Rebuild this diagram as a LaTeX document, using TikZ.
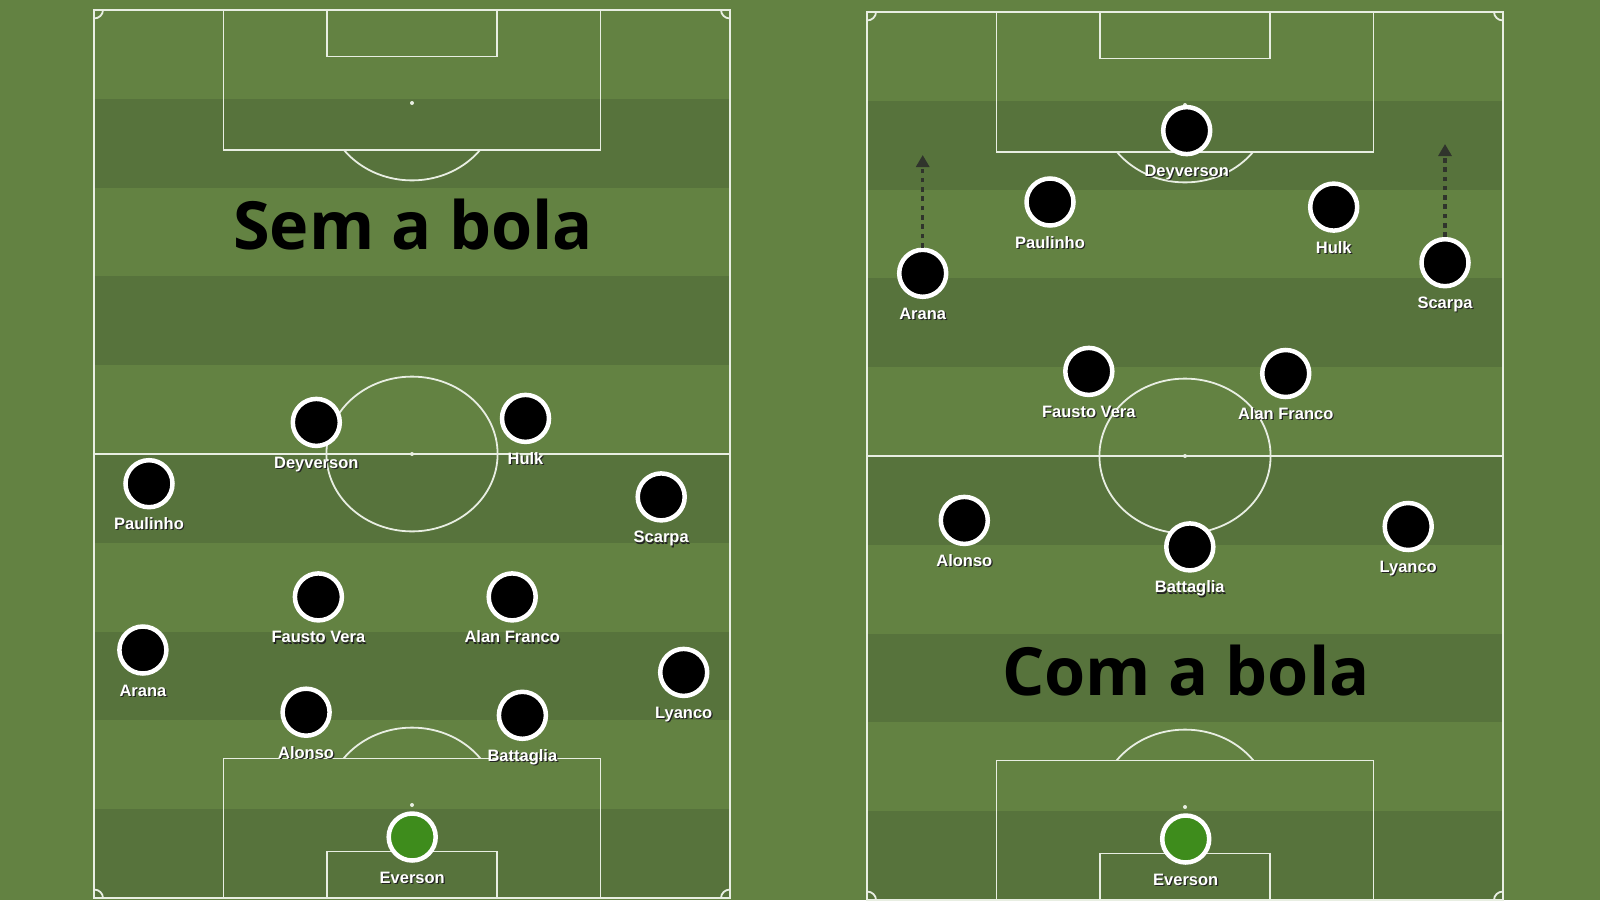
\documentclass[tikz,border=0pt]{standalone}
\usepackage{fontspec}
\setmainfont{Liberation Sans}
\newfontfamily\titlefont{Open Sans}
\usetikzlibrary{arrows.meta}
\definecolor{grasslight}{RGB}{99,130,66}
\definecolor{grassdark}{RGB}{87,115,60}
\definecolor{chalk}{RGB}{232,238,226}
\definecolor{keeper}{RGB}{62,140,28}
\definecolor{runline}{RGB}{48,52,44}
\definecolor{namesh}{RGB}{35,35,35}
% white name with a small dark drop shadow
\newcommand\nm[1]{\rlap{\kern1.2pt\raisebox{-1.2pt}{\textcolor{namesh}{#1}}}#1}
\begin{document}
\begin{tikzpicture}[x=1pt,y=-1pt,
  chalkline/.style={draw=chalk, line width=1.8pt},
  player/.style={circle, fill=black, draw=white, line width=4.5pt, minimum size=47pt, inner sep=0pt},
  goalie/.style={player, fill=keeper},
  tag/.style={anchor=base, text=white, inner sep=0pt, font=\bfseries\fontsize{16.5}{18}\selectfont},
  title/.style={anchor=base, inner sep=0pt, font=\titlefont\bfseries\fontsize{66.5}{76}\selectfont},
  run/.style={draw=runline, line width=3.3pt, dash pattern=on 4.6pt off 4.7pt, -{Triangle[width=13pt,length=12pt]}}]
\useasboundingbox (0,0) rectangle (1600,900);
\fill[grasslight] (0,0) rectangle (1600,900);
% the two pitches
\foreach \px/\py in {94/10, 867/12} {
  \begin{scope}[shift={(\px,\py)}]
    \foreach \k in {1,3,5,7,9}
      \fill[grassdark] (0,\k*88.8) rectangle (636,\k*88.8+88.8);
    \draw[chalkline] (0,0) rectangle (636,888);
    \draw[chalkline] (0,444) -- (636,444);
    \draw[chalkline] (318,444) ellipse [x radius=85.6, y radius=77.4];
    \fill[chalk] (318,444) circle [radius=2];
    \draw[chalkline] (129.5,0) rectangle (506.5,139.6);
    \draw[chalkline] (129.5,888) rectangle (506.5,748.4);
    \draw[chalkline] (233,0) rectangle (403,46.5);
    \draw[chalkline] (233,888) rectangle (403,841.5);
    \fill[chalk] (318,93) circle [radius=2];
    \fill[chalk] (318,795) circle [radius=2];
    \begin{scope}
      \clip (0,139.6) rectangle (636,300);
      \draw[chalkline] (318,93) ellipse [x radius=85.6, y radius=77.4];
    \end{scope}
    \begin{scope}
      \clip (0,600) rectangle (636,748.4);
      \draw[chalkline] (318,795) ellipse [x radius=85.6, y radius=77.4];
    \end{scope}
    \begin{scope}
      \clip (0,0) rectangle (636,888);
      \foreach \cx/\cy in {0/0, 636/0, 0/888, 636/888}
        \draw[chalkline] (\cx,\cy) ellipse [x radius=9, y radius=8.5];
    \end{scope}
  \end{scope}
}
% titles
\node [title] (semtxt) at (413,249.3) {Sem a bola};
\node [title] (comtxt) at (1186,695) {Com a bola};
% left pitch: sem a bola
\node [player] (ldey) at (316.3,422.4) {};
\node [player] (lhulk) at (525.5,418.4) {};
\node [player] (lpau) at (149,483.7) {};
\node [player] (lsca) at (661.2,496.9) {};
\node [player] (lfau) at (318.4,596.9) {};
\node [player] (lala) at (512.2,596.9) {};
\node [player] (lara) at (142.9,650) {};
\node [player] (llya) at (683.7,672.4) {};
\node [player] (lalo) at (306.1,712.2) {};
\node [player] (lbat) at (522.4,715.3) {};
\node [goalie] (leve) at (412.2,837) {};
\node [tag] (ldeyn) at ([yshift=-46pt]ldey.center) {\nm{Deyverson}};
\node [tag] (lhulkn) at ([yshift=-46pt]lhulk.center) {\nm{Hulk}};
\node [tag] (lpaun) at ([yshift=-46pt]lpau.center) {\nm{Paulinho}};
\node [tag] (lscan) at ([yshift=-46pt]lsca.center) {\nm{Scarpa}};
\node [tag] (lfaun) at ([yshift=-46pt]lfau.center) {\nm{Fausto Vera}};
\node [tag] (lalan) at ([yshift=-46pt]lala.center) {\nm{Alan Franco}};
\node [tag] (laran) at ([yshift=-46pt]lara.center) {\nm{Arana}};
\node [tag] (llyan) at ([yshift=-46pt]llya.center) {\nm{Lyanco}};
\node [tag] (lalon) at ([yshift=-46pt]lalo.center) {\nm{Alonso}};
\node [tag] (lbatn) at ([yshift=-46pt]lbat.center) {\nm{Battaglia}};
\node [tag] (leven) at ([yshift=-46pt]leve.center) {\nm{Everson}};
% right pitch: com a bola
\node [player] (rdey) at (1186.7,130.6) {};
\node [player] (rpau) at (1050,202) {};
\node [player] (rhulk) at (1333.7,207.1) {};
\node [player] (rara) at (922.7,273.3) {};
\node [player] (rsca) at (1445,262.7) {};
\node [player] (rfau) at (1088.8,371.4) {};
\node [player] (rala) at (1285.7,373.5) {};
\node [player] (ralo) at (964.3,520.4) {};
\node [player] (rbat) at (1189.8,546.9) {};
\node [player] (rlya) at (1408.2,526.5) {};
\node [goalie] (reve) at (1185.7,839) {};
\node [tag] (rdeyn) at ([yshift=-46pt]rdey.center) {\nm{Deyverson}};
\node [tag] (rpaun) at ([yshift=-46pt]rpau.center) {\nm{Paulinho}};
\node [tag] (rhulkn) at ([yshift=-46pt]rhulk.center) {\nm{Hulk}};
\node [tag] (rarans) at ([yshift=-46pt]rara.center) {\nm{Arana}};
\node [tag] (rscan) at ([yshift=-46pt]rsca.center) {\nm{Scarpa}};
\node [tag] (rfaun) at ([yshift=-46pt]rfau.center) {\nm{Fausto Vera}};
\node [tag] (ralan) at ([yshift=-46pt]rala.center) {\nm{Alan Franco}};
\node [tag] (ralon) at ([yshift=-46pt]ralo.center) {\nm{Alonso}};
\node [tag] (rbatn) at ([yshift=-46pt]rbat.center) {\nm{Battaglia}};
\node [tag] (rlyan) at ([yshift=-46pt]rlya.center) {\nm{Lyanco}};
\node [tag] (reven) at ([yshift=-46pt]reve.center) {\nm{Everson}};
% forward runs of the full backs
\coordinate (ararun) at (922.7,155);
\coordinate (scarun) at (1445,144);
\draw [run] (rara.north) -- (ararun);
\draw [run] (rsca.north) -- (scarun);
\end{tikzpicture}
\end{document}
